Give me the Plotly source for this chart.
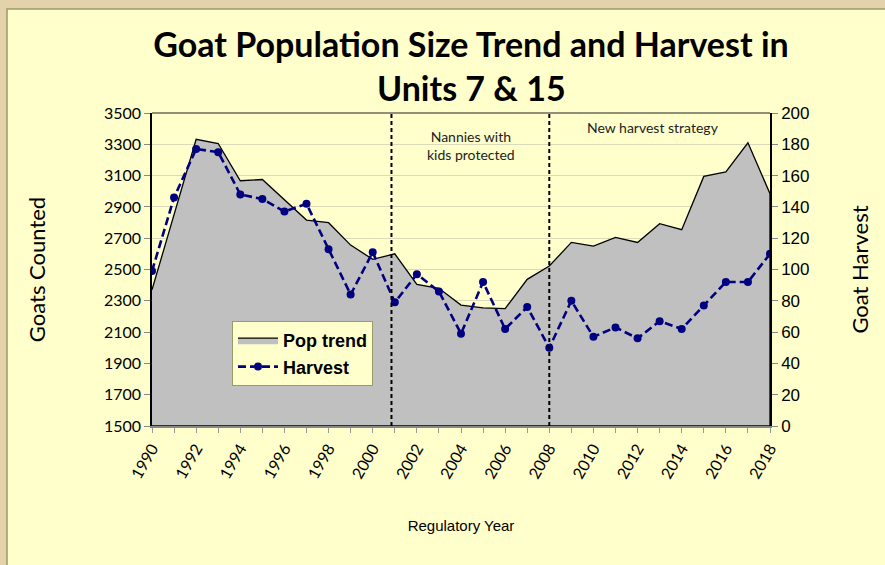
import plotly.graph_objects as go

years = list(range(1990, 2019))
pop_trend = [2370, 2850, 3332, 3305, 3067, 3075, 2945, 2816, 2799, 2656, 2565, 2600,
             2405, 2380, 2273, 2255, 2250, 2437, 2522, 2673, 2650, 2705, 2673, 2793,
             2754, 3095, 3123, 3310, 2984]
harvest = [99, 146, 177, 175, 148, 145, 137, 142, 113, 84, 111, 79,
           97, 86, 59, 92, 62, 76, 50, 80, 57, 63, 56, 67,
           62, 77, 92, 92, 110]
x_tick_labels = [str(y) for y in range(1990, 2019, 2)]
period_breaks = [2000.85, 2008]
pop_floor = 1500
title_lines = ["Goat Population Size Trend and Harvest in", "Units 7 & 15"]

L, R, T, B = 152, 115, 113, 139
W, H = 885, 565
pw, ph = W - L - R, H - T - B

def px_x(p):
    return (p - L) / pw

def px_y(p):
    return (H - B - p) / ph

fig = go.Figure()
fig.add_trace(go.Scatter(
    x=years + [years[-1], years[0]], y=pop_trend + [pop_floor, pop_floor],
    name="Pop trend", mode="lines", fill="toself", fillcolor="#C0C0C0",
    line=dict(color="black", width=1.3),
))
fig.add_trace(go.Scatter(
    x=years, y=harvest, name="Harvest", mode="lines+markers", yaxis="y2",
    line=dict(color="#000080", width=2.6, dash="8px,4px"),
    marker=dict(color="#000080", size=8, symbol="circle"),
))

shapes = [
    dict(type="rect", xref="paper", yref="paper",
         x0=px_x(7), x1=px_x(900), y0=px_y(9), y1=px_y(600),
         fillcolor="#FFFFCC", line=dict(color="#9A9A6A", width=1.5), layer="below"),
    dict(type="line", xref="paper", yref="paper", x0=0, x1=1, y0=1, y1=1,
         line=dict(color="#222222", width=1.2)),
]
for xb in period_breaks:
    shapes.append(dict(type="line", xref="x", yref="paper", x0=xb, x1=xb, y0=0, y1=1,
                       line=dict(color="black", width=2, dash="4px,3px")))

annotations = [
    dict(text="<b>" + title_lines[1] + "</b>", x=px_x(471), y=px_y(88), xref="paper", yref="paper",
         xanchor="center", yanchor="middle", showarrow=False,
         font=dict(family="Lato", size=34, color="black")),
    dict(text="Nannies with<br>kids protected", x=2004.45, y=px_y(145), xref="x", yref="paper",
         xanchor="center", yanchor="middle",
         showarrow=False, font=dict(family="Lato", size=14, color="#222222"), align="center"),
    dict(text="New harvest strategy", x=2012.7, y=px_y(128), xref="x", yref="paper",
         xanchor="center", yanchor="middle",
         showarrow=False, font=dict(family="Lato", size=14, color="#222222")),
]

fig.update_layout(
    width=W, height=H,
    margin=dict(l=L, r=R, t=T, b=B, autoexpand=False),
    paper_bgcolor="#E3D2AA",
    plot_bgcolor="#FFFFCC",
    title=dict(text="<b>" + title_lines[0] + "</b>",
               x=471 / W, xanchor="center", y=1 - 45 / H, yanchor="middle",
               font=dict(family="Lato", size=34, color="black")),
    xaxis=dict(range=[1990, 2018], tickmode="array",
               tickvals=list(range(1990, 2019, 2)), ticktext=x_tick_labels,
               tickangle=-60, ticks="outside", ticklen=5, tickcolor="#999999",
               minor=dict(dtick=1, ticks="outside", ticklen=5, tickcolor="#999999"),
               showgrid=False, showline=True, linecolor="#888888", linewidth=2,
               tickfont=dict(family="Lato", size=16, color="black"),
               title=dict(text="Regulatory Year", standoff=40,
                          font=dict(family="Liberation Sans", size=15, color="black")),
               automargin=False, zeroline=False),
    yaxis=dict(range=[1500, 3500], tick0=1500, dtick=200, ticks="outside", ticklen=6,
               tickcolor="#888888", showgrid=True, gridcolor="#DADAB8", gridwidth=1,
               showline=True, linecolor="black", linewidth=1.5,
               tickfont=dict(family="Lato", size=16, color="black"),
               title=dict(text="Goats Counted", standoff=52,
                          font=dict(family="Lato", size=22, color="black")),
               automargin=False, zeroline=False),
    yaxis2=dict(range=[0, 200], dtick=20, overlaying="y", side="right",
                ticks="outside", ticklen=6, tickcolor="#888888", showgrid=False,
                showline=True, linecolor="black", linewidth=1.5,
                tickfont=dict(family="Liberation Sans", size=17, color="black"),
                title=dict(text="Goat Harvest", standoff=44,
                           font=dict(family="Lato", size=22, color="black")),
                automargin=False, zeroline=False),
    legend=dict(x=px_x(232), y=px_y(321), xanchor="left", yanchor="top",
                bgcolor="#FFFFCC", bordercolor="#9A9A6A", borderwidth=1,
                font=dict(family="Liberation Sans", size=18, color="black", weight="bold"),
                itemwidth=40, tracegroupgap=6),
    shapes=shapes,
    annotations=annotations,
    showlegend=True,
)

fig.write_html("out.html", config={"displayModeBar": False},
               post_script="document.body.style.margin='0';")
